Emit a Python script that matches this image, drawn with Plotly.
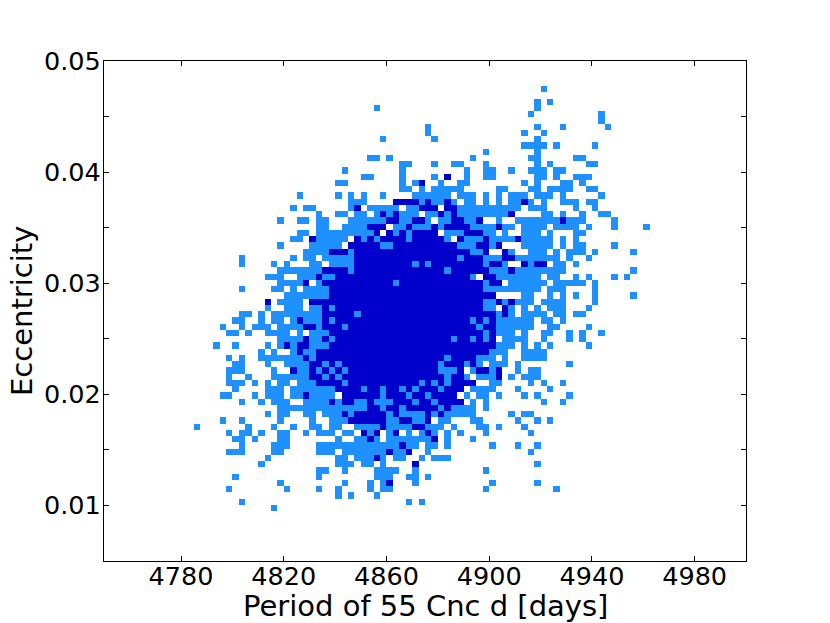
import plotly.graph_objects as go

# Occupancy of the 2-D histogram, one entry per eccentricity bin (top row first),
# listing period-bin indices. light = few samples, dense = many samples.
first_row = 4
light_cells = [
"68", "", "67,69", "42,67", "66,77", "77", "50,67,71,78", "50,65,68", "43,51,67", "65-68,70,76",
"59,67", "41,42,44,57,66,67,73,74", "46,47,51,54,55,59,67,69,75,76", "37,46,56,59,60,63,66-68,70,71",
"40,41,46,51,56,59,60,67,68,70,73-75", "36,37,46,48,52,55,56,65,67,71,72,74",
"46,47,49,51-55,61,62,66,67,69-72,75,76", "30,36,38,40,43,48-53,55-57,59,61,63-65,67-69,71,77",
"38,39,40,49,51,52,54,56,57,59,61,63,64,66,68,71-73,75,76", "29,31,32,38,41-45,47,48,55-64,66-68,73,76",
"33,36,37,39,40,42,44,46-48,50,51,53,55-62,68,69,71,74,77,78",
"27,30,31,33,34,38-43,46,47,50,52,53,56,57,61,64-70,72-74,79",
"33,34,37-40,45,46,48-50,52,57-60,62,63,65-68,70-73,75,79,84",
"30,31,33-41,45,47,53-55,59,60,62,65-67,69,73,74",
"29,30,33-37,40,42,47,53,56-58,60-63,65-69,71,73",
"27,32-36,43,44,55-57,60,65-69,71,73,74,79",
"31-34,38,57,58,63,66-68,70,72-74,76,82",
"21,29,31,32,34-38,55,59-61,64-70,72,75",
"21,26,28,32,33,35-38,48,50,59,62,66,70,71,73",
"27-33,38,53,60-62,64-71,82",
"25-27,30-32,34,35,57,61-67,69,70,73,75,79,81",
"27-30,33,45,59,63-68,70-74,76",
"21,26,27,29,31-34,59-67,69-71,76",
"28-34,65,66,69,71,73,76,82",
"27-30,59,60,62,64-66,68-71,76",
"25,28-30,32,33,35,59,60,63,65,67,69-71,75",
"21,22,24,26-33,39,61,63,65-68,70,71,73,74",
"20,21,24,26,27,29,31-33,35,57,59,61-66,68,69,71",
"18,21,23-25,27-30,33,37,58,61-66,69,70,75",
"19,20,22,25-28,30,32-34,59,61-63,65,68,69,72,74,77",
"27-30,32,33,35,54,57,59,62-65,68,72,74",
"17,20,25,27,29,32-34,61-63,65,67,69,75",
"24,26,29,31,32,60-62,65-68",
"19,21,24-30,32,53,58-60,62,65-68",
"20,21,25,28-31,34,36,52,56,58,60-62,64,72",
"19-21,26,30,31,33,35,37,52-54,57,60,64,66,67",
"19,22,26-31,34,36,53,56,58-60,63,65-67",
"19-21,23,25,27,28,30-32,37,49,51,53,60,61,66,68,71",
"20,25-27,29-35,40,43,46,48,52,57-60,64,69",
"18,19,23,25-27,29,30,32-35,43,47,50,56,58,59,61,65,67,72",
"21,24,26-28,31-34,36,39,40,42-44,48,51,57,59,68,71",
"27-40,43,46,52,54-57,59",
"25,27,28,31,32,34-36,38,44,46-49,51,53-57,63,65,66",
"18,21,27,32,35-37,44,45,48,49,52,53,57,58,64,67,69",
"14,22,26,29,32,33,35,36,39-42,44-47,50-52,54,58,59,61,65",
"19,21,22,24,27,28,31,33-35,37,38,41,44,47,49,51,53,55,59,66",
"20,21,23,27,28,36,39,40,42,44-50,53,57",
"21,26-28,33-45,47,48,50,51,53,60,64,67",
"19-21,26,27,33-35,37-43,45,46,50,66",
"25,36,37,39-41,43,45,46,49,51-53",
"24,36-38,40,41,43,67",
"33,34,37,42-45,48,59",
"20,33,42-44,47,48,50",
"27,37,41,43,48,60,67",
"19,28,33,36,41,43,44,59,70",
"36,38,42",
"21,47,49",
"26",
]
dense_cells = [
"", "", "", "", "", "", "", "", "", "", "", "", "", "",
"53", "49", "", "",
"45-48,50,53,65", "39,49-51,53,54", "43,45,52,54,63", "44,45,48,49,54,55,58,71",
"41-43,47,51,53-56,61", "42,44,46,48-51,56-58", "32,39,41,43-46,48-52,55,59,64",
"38-42,45-54,58,59,61", "35-37,39-56,59,62", "39-54,56-58,62,63",
"39-47,49,51-58,60,61,65,67,68", "34-37,39-52,54-59,63", "33,36-56,59,60",
"31,34-44,46-58,60,61", "35-58", "35-60", "25,32-58,61,63", "34,36-58,62",
"34-38,40-60,62", "30,34,36-56,58,60", "31,32,34-36,38-57,59,60", "35-58,60",
"31,34,36-53,55,56,58,60", "28,30,31,35-60", "30,33-59", "31,33-52,54-57",
"32,33,35,37-51,53-55,57", "29,32,34,36,38-51,55,58,59,61", "32,33,35,37-52,54,55,61",
"33-36,38-48,50,52,54-57", "36-39,41,42,44,45,47,49-51,53-55",
"31,37-42,44-46,48,49,51-54", "35,37,38,41,45-47,49,50,52-55", "41,42,44,45,47-51,53",
"37,39-43,45,50,52", "38-43,46,47,50", "43,48,49", "40,42,45,50", "41,51", "46", "44,47",
"42", "48", "", "", "44", "", "", "", "",
]
x_tick_values = [4780, 4820, 4860, 4900, 4940, 4980]
y_tick_values = [0.01, 0.015, 0.02, 0.025, 0.03, 0.035, 0.04, 0.045, 0.05]
y_tick_labels = ["0.01", "", "0.02", "", "0.03", "", "0.04", "", "0.05"]
x_title = "Period of 55 Cnc d [days]"
y_title = "Eccentricity"

PERIOD_MIN, PERIOD_MAX, N_COLS = 4750, 5000, 100
ECC_MIN, ECC_MAX, N_ROWS = 0.005, 0.05, 80
dx = (PERIOD_MAX - PERIOD_MIN) / N_COLS
dy = (ECC_MAX - ECC_MIN) / N_ROWS
period_bins = [PERIOD_MIN + dx * (c + 0.5) for c in range(N_COLS)]
ecc_bins = [ECC_MAX - dy * (r + 0.5) for r in range(N_ROWS)]


def parse(spec):
    out = []
    for part in filter(None, spec.split(",")):
        a, _, b = part.partition("-")
        out.extend(range(int(a), int(b or a) + 1))
    return out


z = [[None] * N_COLS for _ in range(N_ROWS)]
for i, spec in enumerate(light_cells):
    for c in parse(spec):
        z[first_row + i][c] = 1
for i, spec in enumerate(dense_cells):
    for c in parse(spec):
        z[first_row + i][c] = 2

fig = go.Figure(go.Heatmap(
    x=period_bins, y=ecc_bins, z=z, zmin=1, zmax=2, showscale=False, hoverongaps=False,
    colorscale=[[0, "#1E90FF"], [0.5, "#1E90FF"], [0.5, "#0000CD"], [1, "#0000CD"]],
))
font = dict(family="DejaVu Sans", size=25.5, color="black")
title_font = dict(family="DejaVu Sans", size=29, color="black")
axis = dict(showgrid=False, zeroline=False, showline=True, linecolor="black", linewidth=1.3,
            mirror="allticks", ticks="inside", ticklen=5, tickwidth=1, tickcolor="black",
            tickfont=font, automargin=False)
fig.update_xaxes(range=[PERIOD_MIN, PERIOD_MAX], tickmode="array", tickvals=x_tick_values,
                 ticktext=[str(v) for v in x_tick_values], ticklabelstandoff=-8, **axis)
fig.update_yaxes(range=[ECC_MIN, ECC_MAX], tickmode="array", tickvals=y_tick_values,
                 ticktext=y_tick_labels, ticklabelstandoff=-3, **axis)
fig.update_layout(
    width=830, height=623, margin=dict(l=104, r=84, t=61, b=62),
    paper_bgcolor="white", plot_bgcolor="white",
    annotations=[
        dict(text=x_title, xref="paper", yref="paper", x=0.5, y=0, xanchor="center", yanchor="top",
             yshift=-26, showarrow=False, font=title_font),
        dict(text=y_title, xref="paper", yref="paper", x=0, y=0.5, xanchor="right", yanchor="middle",
             xshift=-63, textangle=-90, showarrow=False, font=title_font),
    ],
)
fig.write_html("out.html", post_script="document.body.style.margin='0';",
               config={"displayModeBar": False})
